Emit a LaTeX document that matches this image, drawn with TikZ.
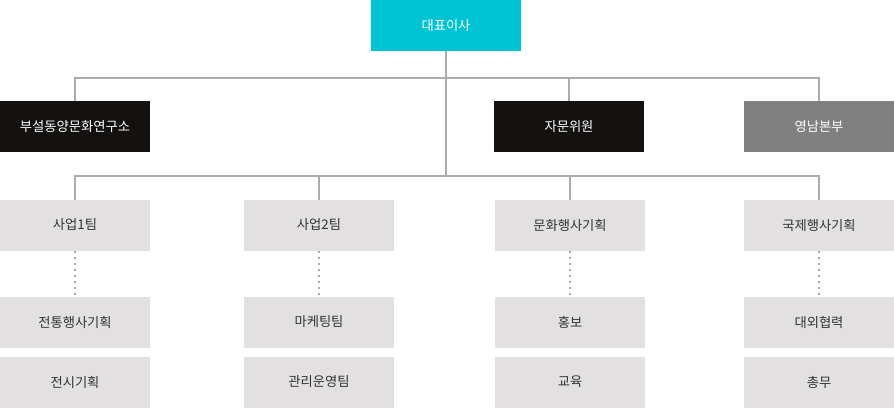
\documentclass[tikz,border=0pt]{standalone}
\usepackage{fontspec}
\newfontfamily\krfont{Noto Sans CJK KR}
\usepackage{tikz}
\usetikzlibrary{positioning}
\usepackage{xcolor}
\definecolor{ceocyan}{HTML}{00C3D3}
\definecolor{boardblack}{HTML}{141210}
\definecolor{branchgray}{HTML}{808080}
\definecolor{teamgray}{HTML}{E2E0E1}
\definecolor{linkgray}{HTML}{ABABAB}
\definecolor{textgray}{HTML}{333333}

\begin{document}
\begin{tikzpicture}[
    x=1pt, y=1pt,
    font=\krfont\fontsize{13.3}{16}\selectfont,
    unit/.style={minimum width=150pt, minimum height=51pt, inner sep=0pt, outer sep=0pt, align=center},
    head/.style={unit, fill=ceocyan, text=white},
    board/.style={unit, fill=boardblack, text=white},
    branch/.style={unit, fill=branchgray, text=white},
    team/.style={unit, fill=teamgray, text=textgray},
    link/.style={draw=linkgray, line width=2pt},
    sublink/.style={draw=linkgray, line width=2pt, dash pattern=on 2pt off 4pt},
  ]
    \useasboundingbox (0,0) rectangle (894,-410);

    \node[head] (ceo) at (446,-25.5) {대표이사};

    \node[board] (institute) at (75,-126.5) {부설동양문화연구소};
    \node[board] (advisor) at (569,-126.5) {자문위원};
    \node[branch] (yeongnam) at (819,-126.5) {영남본부};

    \node[team] (team1) at (75,-225) {사업1팀};
    \node[team] (team2) at (319,-225) {사업2팀};
    \node[team] (culture) at (570,-225) {문화행사기획};
    \node[team] (global) at (819,-225) {국제행사기획};

    \node[team, below=46pt of team1] (tradition) {전통행사기획};
    \node[team, below=9pt of tradition] (exhibit) {전시기획};
    \node[team, below=46pt of team2] (marketing) {마케팅팀};
    \node[team, below=9pt of marketing] (operation) {관리운영팀};
    \node[team, below=46pt of culture] (promo) {홍보};
    \node[team, below=9pt of promo] (education) {교육};
    \node[team, below=46pt of global] (relations) {대외협력};
    \node[team, below=9pt of relations] (general) {총무};

    \coordinate (hub1) at (446,-78);
    \coordinate (hub2) at (446,-176);

    \draw[link] (ceo.south) -- (hub2);
    \draw[link] (institute.north) |- (hub1) -| (yeongnam.north);
    \draw[link] (advisor.north) -- (advisor.north |- hub1);
    \draw[link] (team1.north) |- (hub2) -| (global.north);
    \draw[link] (team2.north) -- (team2.north |- hub2);
    \draw[link] (culture.north) -- (culture.north |- hub2);

    \foreach \top/\sub in {team1/tradition, team2/marketing, culture/promo, global/relations}
      \draw[sublink] (\top.south) -- (\sub.north);
  \end{tikzpicture}
\end{document}
